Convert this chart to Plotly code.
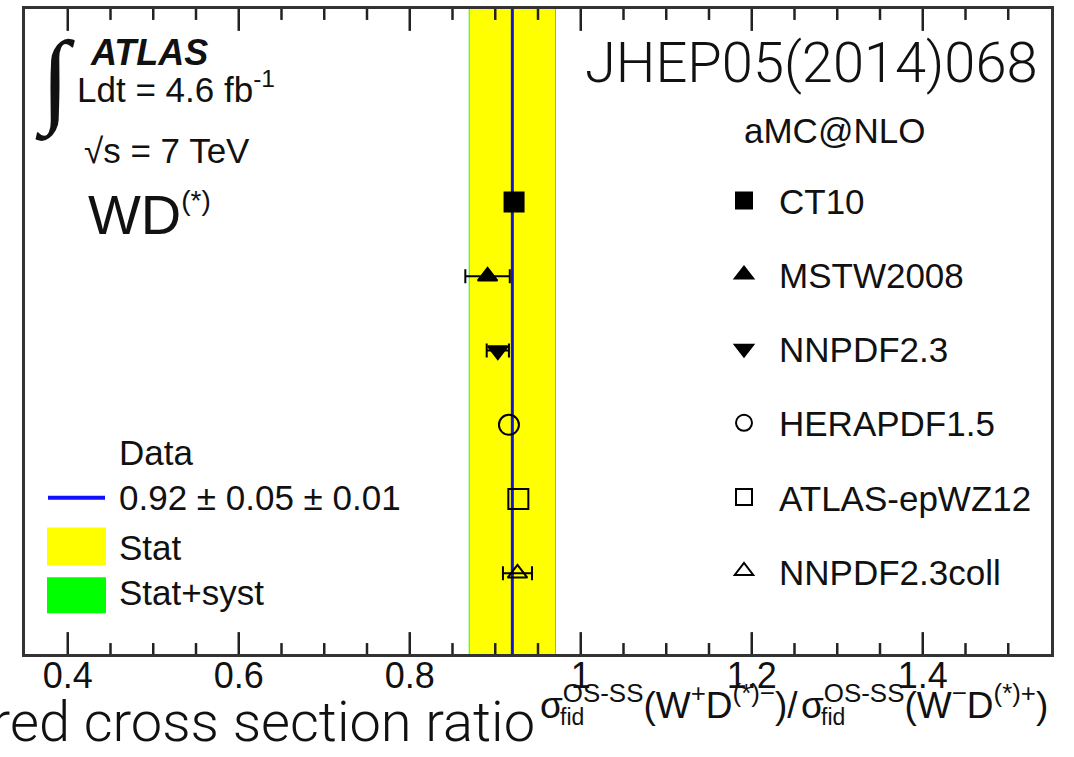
import plotly.graph_objects as go

# Predictions (aMC@NLO with different PDF sets) for the W+D / W-D ratio
models = ["CT10", "MSTW2008", "NNPDF2.3", "HERAPDF1.5", "ATLAS-epWZ12", "NNPDF2.3coll"]
ratio = [0.922, 0.891, 0.903, 0.916, 0.927, 0.926]
ratio_err = [None, 0.026, 0.013, None, None, 0.017]

# Measured value
data_value = 0.92
data_stat = 0.05
data_syst = 0.01

x_range = [0.35, 1.55]
x_ticks = [0.4, 0.6, 0.8, 1.0, 1.2, 1.4]
x_ticktext = ["0.4", "0.6", "0.8", "1", "1.2", "1.4"]
x_minor_step = 0.05

symbols = {
    "CT10": "square",
    "MSTW2008": "triangle-up",
    "NNPDF2.3": "triangle-down",
    "HERAPDF1.5": "circle-open",
    "ATLAS-epWZ12": "square-open",
    "NNPDF2.3coll": "triangle-up-open",
}
sizes = {
    "CT10": 19, "MSTW2008": 17, "NNPDF2.3": 17,
    "HERAPDF1.5": 20, "ATLAS-epWZ12": 20, "NNPDF2.3coll": 17,
}

W, H = 1074, 757
L, R, T, B = 25, 1051, 6, 654
MAJOR_LEN, MINOR_LEN = 22, 11


def px(x):
    return (x - L) / (R - L)


def py(y):
    return (B - y) / (B - T)


TXT = "#111111"
AX = "#222222"
SANS = "Liberation Sans, Arial, Helvetica, sans-serif"
LIGHT = "Roboto, Lato, Open Sans, sans-serif"

fig = go.Figure()

for i, m in enumerate(models):
    kw = {}
    if ratio_err[i] is not None:
        kw["error_x"] = dict(type="data", array=[ratio_err[i]], color="black",
                             thickness=2, width=7)
    fig.add_trace(go.Scatter(
        x=[ratio[i]], y=[m], mode="markers", name=m, legendgroup=m,
        marker=dict(symbol=symbols[m], size=sizes[m], color="black",
                    line=dict(color="black", width=2)),
        **kw,
    ))

# Inward tick marks on the bottom and top edges, drawn on a pixel-height overlay axis
plot_h = B - T
n_minor = int(round((x_range[1] - x_range[0]) / x_minor_step))
tick_positions = [round(x_range[0] + k * x_minor_step, 3) for k in range(1, n_minor)]
tx, ty = [], []
for v in tick_positions:
    length = MAJOR_LEN if any(abs(v - t) < 1e-6 for t in x_ticks) else MINOR_LEN
    tx += [v, v, None, v, v, None]
    ty += [0, length, None, plot_h - length, plot_h, None]
fig.add_trace(go.Scatter(
    x=tx, y=ty, yaxis="y2", mode="lines", showlegend=False, hoverinfo="skip",
    line=dict(color=AX, width=2.5),
))

# Stat+syst (green) and stat (yellow) bands, then the central value line
tot = (data_stat ** 2 + data_syst ** 2) ** 0.5
shapes = [
    dict(type="rect", xref="x", yref="paper", x0=data_value - tot, x1=data_value + tot,
         y0=0, y1=1, fillcolor="#00ff00", line_width=0, layer="below"),
    dict(type="rect", xref="x", yref="paper", x0=data_value - data_stat,
         x1=data_value + data_stat, y0=0, y1=1, fillcolor="#ffff00",
         line_width=0, layer="below"),
    dict(type="line", xref="x", yref="paper", x0=data_value, x1=data_value,
         y0=0, y1=1, line=dict(color="#1414d8", width=3), layer="below"),
    # left-hand key
    dict(type="line", xref="paper", yref="paper", x0=px(48), x1=px(105),
         y0=py(497), y1=py(497), line=dict(color="#1010ff", width=4)),
    dict(type="rect", xref="paper", yref="paper", x0=px(47), x1=px(106),
         y0=py(565), y1=py(527), fillcolor="#ffff00", line_width=0),
    dict(type="rect", xref="paper", yref="paper", x0=px(47), x1=px(106),
         y0=py(613), y1=py(577), fillcolor="#00ff00", line_width=0),
]


def note(x, y, text, size, xanchor="left", family=SANS, weight=None, style=None,
         yanchor="middle"):
    f = dict(family=family, size=size, color=TXT)
    if weight is not None:
        f["weight"] = weight
    if style is not None:
        f["style"] = style
    return dict(xref="paper", yref="paper", x=px(x), y=py(y), text=text,
                showarrow=False, xanchor=xanchor, yanchor=yanchor, font=f)


key_label = f"{data_value:.2f} ± {data_stat:.2f} ± {data_syst:.2f}"

annotations = [
    note(33, 78, "∫", 104, family="Liberation Serif, serif"),
    note(88, 50, "ATLAS", 36, weight="bold", style="italic"),
    note(75, 84, "Ldt = 4.6 fb<sup>-1</sup>", 35),
    note(82, 148, "√s = 7 TeV", 35),
    note(86, 212, "WD<sup><span style='font-size:28px'>(*)</span></sup>", 56),
    note(1040, 60, "JHEP05(2014)068", 56, xanchor="right", family=LIGHT, weight=300),
    note(742, 128, "aMC@NLO", 35),
    note(117, 452, "Data", 35),
    note(117, 497, key_label, 35),
    note(117, 547, "Stat", 35),
    note(117, 592, "Stat+syst", 35),
    # axis title
    note(537, 722, "Measured cross section ratio", 56, xanchor="right",
         family=LIGHT, weight=300),
    note(538, 703, "σ<sup>OS-SS</sup>(W<sup>+</sup>D<sup>(*)−</sup>)/", 37),
    note(799, 703, "σ<sup>OS-SS</sup>(W<sup>−</sup>D<sup>(*)+</sup>)", 37),
    note(558, 717, "fid", 23),
    note(819, 717, "fid", 23),
]

fig.update_layout(
    width=W, height=H,
    margin=dict(l=L, r=W - R, t=T, b=H - B),
    paper_bgcolor="white", plot_bgcolor="white",
    shapes=shapes, annotations=annotations,
    showlegend=True,
    legend=dict(
        x=px(709), y=py(169), xanchor="left", yanchor="top",
        font=dict(family=SANS, size=35, color=TXT),
        bgcolor="rgba(0,0,0,0)", tracegroupgap=25.6, itemsizing="trace",
        itemwidth=60,
    ),
    xaxis=dict(
        range=x_range, tickmode="array", tickvals=x_ticks, ticktext=x_ticktext,
        ticks="", showline=True, linecolor="#333333", linewidth=2.5, mirror=True,
        showgrid=False, zeroline=False, ticklabelstandoff=-12,
        tickfont=dict(family=SANS, size=36, color=TXT),
    ),
    yaxis=dict(
        type="category", categoryorder="array", categoryarray=models[::-1],
        range=[-1.086, 7.6], showticklabels=False, ticks="",
        showline=True, linecolor="#333333", linewidth=2.5, mirror=True,
        showgrid=False, zeroline=False,
    ),
    yaxis2=dict(overlaying="y", range=[0, plot_h], visible=False,
                showgrid=False, zeroline=False),
)

fig.write_html("out.html", config={"displayModeBar": False})
